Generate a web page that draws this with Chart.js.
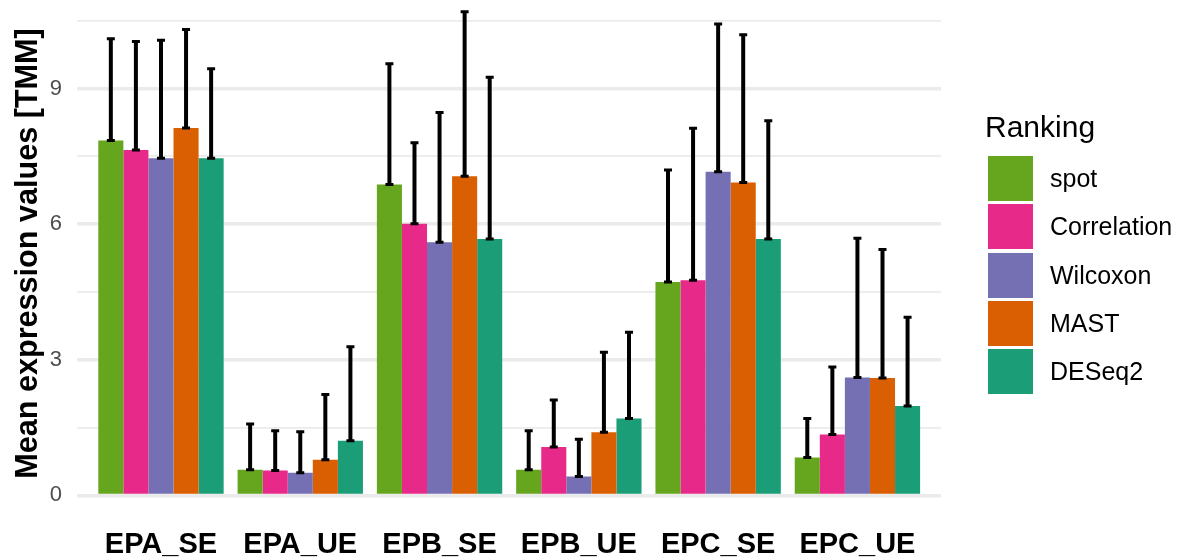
<!DOCTYPE html>
<html>
<head>
<meta charset="utf-8">
<script src="https://cdn.jsdelivr.net/npm/chart.js@4.4.1/dist/chart.umd.min.js"></script>
<style>
  html, body { margin: 0; padding: 0; background: #fff; }
  #wrap { position: relative; width: 1180px; height: 559px; }
  #legend { position: absolute; left: 0; top: 0; font-family: "Liberation Sans", Arial, sans-serif; color: #000; }
  .leg-title { position: absolute; left: 985px; top: 111.5px; font-size: 30px; line-height: 1; white-space: nowrap; }
  .leg-key { position: absolute; left: 988px; width: 45px; height: 45px; }
  .leg-label { position: absolute; left: 1050px; height: 45px; line-height: 45px; font-size: 25px; white-space: nowrap; }
</style>
</head>
<body>
<div id="wrap">
  <canvas id="chart" width="1180" height="559"></canvas>
  <div id="legend"></div>
</div>
<script>
const categories = ["EPA_SE", "EPA_UE", "EPB_SE", "EPB_UE", "EPC_SE", "EPC_UE"];
const seriesNames = ["spot", "Correlation", "Wilcoxon", "MAST", "DESeq2"];
const seriesColors = ["#66A61E", "#E7298A", "#7570B3", "#D95F02", "#1B9E77"];

// bar heights (mean) and error bar tops (mean + sd)
const spotMean = [7.85, 0.57, 6.88, 0.57, 4.72, 0.84];
const spotUpper = [10.10, 1.58, 9.55, 1.43, 7.20, 1.70];
const corrMean = [7.64, 0.55, 6.01, 1.07, 4.76, 1.35];
const corrUpper = [10.04, 1.43, 7.80, 2.11, 8.12, 2.84];
const wilcMean = [7.46, 0.50, 5.60, 0.42, 7.16, 2.61];
const wilcUpper = [10.07, 1.41, 8.47, 1.24, 10.43, 5.69];
const mastMean = [8.13, 0.79, 7.06, 1.40, 6.92, 2.60];
const mastUpper = [10.31, 2.23, 10.70, 3.17, 10.19, 5.44];
const deseqMean = [7.46, 1.21, 5.67, 1.70, 5.67, 1.98];
const deseqUpper = [9.44, 3.29, 9.25, 3.61, 8.29, 3.94];

const yTicks = [0, 1.5, 3, 4.5, 6, 7.5, 9, 10.5];
const yLabelTicks = [0, 3, 6, 9];
const yTitle = "Mean expression values [TMM]";

const means = [spotMean, corrMean, wilcMean, mastMean, deseqMean];
const uppers = [spotUpper, corrUpper, wilcUpper, mastUpper, deseqUpper];

const FONT = "'Liberation Sans', Arial, sans-serif";

const errorBars = {
  id: "errorBars",
  afterDatasetsDraw(chart) {
    const { ctx } = chart;
    const yScale = chart.scales.y;
    ctx.save();
    ctx.strokeStyle = "#000";
    chart.data.datasets.forEach((ds, di) => {
      const meta = chart.getDatasetMeta(di);
      meta.data.forEach((bar, i) => {
        const x = bar.x;
        const yLow = yScale.getPixelForValue(ds.data[i].y);
        const yHigh = yScale.getPixelForValue(ds.upper[i]);
        ctx.lineWidth = 4;
        ctx.beginPath();
        ctx.moveTo(x, yLow);
        ctx.lineTo(x, yHigh);
        ctx.stroke();
        ctx.lineWidth = 3;
        ctx.beginPath();
        ctx.moveTo(x - 4, yHigh);
        ctx.lineTo(x + 4, yHigh);
        ctx.moveTo(x - 4, yLow);
        ctx.lineTo(x + 4, yLow);
        ctx.stroke();
      });
    });
    ctx.restore();
  },
};

// y axis title, drawn by hand so it can sit a bit above the scale's centre
const axisTitle = {
  id: "axisTitle",
  afterDraw(chart) {
    const { ctx } = chart;
    ctx.save();
    ctx.translate(36.5, 253.5);
    ctx.rotate(-Math.PI / 2);
    ctx.font = "bold 30.6px " + FONT;
    ctx.fillStyle = "#000";
    ctx.textAlign = "center";
    ctx.textBaseline = "alphabetic";
    ctx.fillText(yTitle, 0, 0);
    ctx.restore();
  },
};

const datasets = seriesNames.map((name, s) => ({
  label: name,
  data: categories.map((c, i) => ({ x: i + 1, y: means[s][i] })),
  upper: uppers[s],
  backgroundColor: seriesColors[s],
  borderWidth: 0,
  categoryPercentage: 0.9,
  barPercentage: 1.0,
}));

new Chart(document.getElementById("chart"), {
  type: "bar",
  data: { datasets },
  plugins: [errorBars, axisTitle],
  options: {
    responsive: false,
    animation: false,
    layout: { padding: { left: 0, right: 239, top: 0, bottom: 0 } },
    plugins: { legend: { display: false }, tooltip: { enabled: false } },
    scales: {
      x: {
        type: "linear",
        min: 0.4,
        max: 6.6,
        offset: false,
        afterBuildTicks: (s) => {
          s.ticks = categories.map((c, i) => ({ value: i + 1 }));
        },
        afterFit: (s) => {
          s.height = 39.4;
          s.paddingLeft = 0;
          s.paddingRight = 0;
        },
        ticks: {
          autoSkip: false,
          maxRotation: 0,
          padding: 8,
          color: "#000",
          font: { family: FONT, size: 29, weight: "bold", lineHeight: 1.2 },
          callback: (v) => categories[Math.round(v) - 1],
        },
        grid: { display: false, drawTicks: false, offset: false },
        border: { display: false },
      },
      y: {
        min: -0.535,
        max: 10.96,
        afterBuildTicks: (s) => {
          s.ticks = yTicks.map((v) => ({ value: v }));
        },
        afterFit: (s) => {
          s.width = 77.4;
          s.paddingTop = 0;
          s.paddingBottom = 0;
        },
        ticks: {
          autoSkip: false,
          padding: 15.4,
          color: "#4D4D4D",
          font: { family: FONT, size: 22 },
          callback: (v) => (yLabelTicks.includes(v) ? String(v) : ""),
        },
        grid: {
          color: "#EBEBEB",
          drawTicks: false,
          lineWidth: (c) => (c.tick && yLabelTicks.includes(c.tick.value) ? 3.5 : 1.8),
        },
        border: { display: false },
      },
    },
  },
});

const legend = document.getElementById("legend");
const title = document.createElement("div");
title.className = "leg-title";
title.textContent = "Ranking";
legend.appendChild(title);
seriesNames.forEach((name, s) => {
  const top = 155.7 + s * 48.4;
  const key = document.createElement("div");
  key.className = "leg-key";
  key.style.top = top + "px";
  key.style.background = seriesColors[s];
  legend.appendChild(key);
  const label = document.createElement("div");
  label.className = "leg-label";
  label.style.top = top + "px";
  label.textContent = name;
  legend.appendChild(label);
});
</script>
</body>
</html>
